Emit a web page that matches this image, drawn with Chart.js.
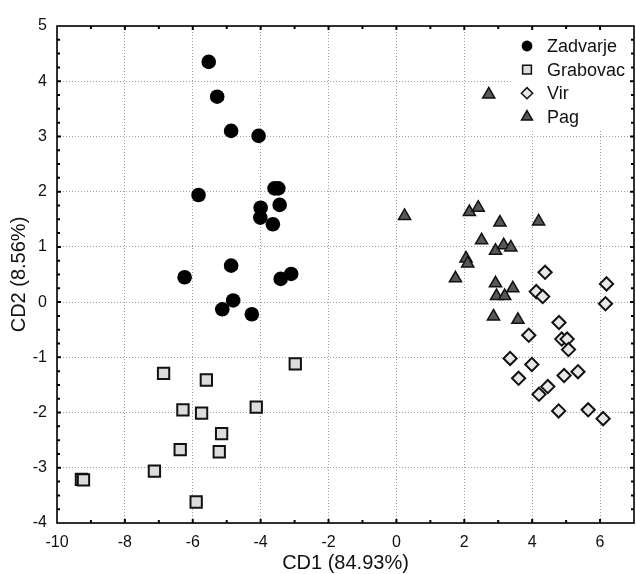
<!DOCTYPE html>
<html>
<head>
<meta charset="utf-8">
<script src="https://cdn.jsdelivr.net/npm/chart.js@4.4.0/dist/chart.umd.min.js"></script>
<style>html,body{margin:0;padding:0;background:#fff}</style>
</head>
<body>
<canvas id="chart" width="636" height="574"></canvas>
<script>
// values
const zadvarjeX=[-5.53,-5.28,-4.87,-4.06,-5.83,-3.59,-3.48,-3.44,-4.00,-4.01,-3.64,-4.87,-6.24,-3.41,-3.10,-4.81,-5.13,-4.26];
const zadvarjeY=[4.35,3.72,3.10,3.01,1.94,2.06,2.06,1.76,1.71,1.53,1.41,0.66,0.45,0.42,0.51,0.03,-0.13,-0.22];

const grabovacX=[-6.86,-5.60,-2.98,-6.29,-5.74,-4.13,-5.15,-6.37,-5.22,-7.13,-9.28,-9.22,-5.90];
const grabovacY=[-1.29,-1.41,-1.12,-1.95,-2.01,-1.90,-2.38,-2.67,-2.71,-3.06,-3.21,-3.22,-3.62];

const virX=[4.38,6.19,4.12,4.31,6.16,4.79,3.90,4.87,5.03,5.07,3.35,3.99,5.35,4.94,3.60,4.46,4.20,4.78,5.65,6.09];
const virY=[0.54,0.33,0.19,0.10,-0.03,-0.37,-0.60,-0.67,-0.67,-0.86,-1.02,-1.13,-1.26,-1.33,-1.38,-1.53,-1.67,-1.97,-1.95,-2.11];

const pagX=[0.24,2.15,2.41,3.05,4.19,2.51,2.92,3.16,3.37,2.05,2.10,1.74,2.92,3.43,2.95,3.19,2.86,3.58,2.72];
const pagY=[1.56,1.63,1.71,1.44,1.46,1.12,0.93,1.03,0.99,0.79,0.70,0.43,0.34,0.25,0.11,0.11,-0.26,-0.32,3.76];

const xTicks=[-10,-8,-6,-4,-2,0,2,4,6];
const yTicks=[-4,-3,-2,-1,0,1,2,3,4,5];

const FONT='"Liberation Sans", Arial, sans-serif';

function pts(xs,ys){return xs.map((x,i)=>({x:x,y:ys[i]}));}

const styles=[
 {name:'Zadvarje',pointStyle:'circle',r:7.3,fill:'#000',stroke:'#000',bw:0,lr:5.4},
 {name:'Grabovac',pointStyle:'rect',r:8,fill:'#dcdcdc',stroke:'#111',bw:2,lr:6.2},
 {name:'Vir',pointStyle:'rectRot',r:6.6,fill:'#e8e8e8',stroke:'#111',bw:2,lr:5.6},
 {name:'Pag',pointStyle:'triangle',r:7,fill:'#575757',stroke:'#111',bw:1.5,lr:6.3}
];
const allData=[pts(zadvarjeX,zadvarjeY),pts(grabovacX,grabovacY),pts(virX,virY),pts(pagX,pagY)];

// legend inside the plot + frame with inward ticks
const framePlugin={
 id:'framePlugin',
 afterDatasetsDraw(c){
  const ctx=c.ctx,a=c.chartArea;
  ctx.save();
  ctx.fillStyle='#fff';
  ctx.fillRect(a.right-121,a.top+1,120,104);
  ctx.font='18px '+FONT;
  ctx.textBaseline='middle';
  styles.forEach((s,i)=>{
   const y=a.top+20+i*23.6, x=a.right-107;
   ctx.fillStyle=s.fill;ctx.strokeStyle=s.stroke;ctx.lineWidth=s.bw?1.5:0;
   Chart.helpers.drawPoint(ctx,{pointStyle:s.pointStyle,radius:s.lr,rotation:0,borderWidth:s.bw?1.5:0},x,y);
   ctx.fillStyle='#111';
   ctx.fillText(s.name,a.right-87,y+1);
  });
  ctx.restore();
 },
 afterDraw(c){
  const ctx=c.ctx,a=c.chartArea,xs=c.scales.x,ys=c.scales.y;
  ctx.save();
  ctx.strokeStyle='#000';
  ctx.lineWidth=1.6;
  ctx.strokeRect(a.left,a.top,a.right-a.left,a.bottom-a.top);
  ctx.lineWidth=2;
  ctx.beginPath();
  for(let v=-9;v<=6;v++){
   const px=xs.getPixelForValue(v),len=(v%2===0)?4:3;
   ctx.moveTo(px,a.bottom);ctx.lineTo(px,a.bottom-len);
   ctx.moveTo(px,a.top);ctx.lineTo(px,a.top+len);
  }
  for(let k=-15;k<=19;k++){
   const v=k/4,py=ys.getPixelForValue(v),len=(k%4===0)?4:3;
   ctx.moveTo(a.left,py);ctx.lineTo(a.left+len,py);
   ctx.moveTo(a.right,py);ctx.lineTo(a.right-len,py);
  }
  ctx.stroke();
  ctx.restore();
 }
};

const gridOpts={color:'#a0a0a0',lineWidth:1,drawTicks:false};
const tickFont={family:FONT,size:16};

new Chart(document.getElementById('chart'),{
 type:'scatter',
 data:{datasets:styles.map((s,i)=>({
  label:s.name,data:allData[i],pointStyle:s.pointStyle,
  pointRadius:s.r,pointHoverRadius:s.r,
  backgroundColor:s.fill,borderColor:s.stroke,borderWidth:s.bw
 }))},
 options:{
  responsive:false,animation:false,devicePixelRatio:1,
  layout:{autoPadding:false,padding:{top:26,right:2,left:0,bottom:0}},
  plugins:{legend:{display:false},tooltip:{enabled:false}},
  scales:{
   x:{type:'linear',min:-10,max:7,
    afterBuildTicks:s=>{s.ticks=xTicks.map(v=>({value:v}));},
    afterFit:s=>{s.height=51;s.paddingLeft=0;s.paddingRight=0;},
    grid:gridOpts,border:{display:false,dash:[1,2]},
    ticks:{padding:10,color:'#111',font:tickFont},
    title:{display:true,text:'CD1 (84.93%)',color:'#111',font:{family:FONT,size:20,lineHeight:1},padding:{top:1,bottom:1}}
   },
   y:{type:'linear',min:-4,max:5,
    afterBuildTicks:s=>{s.ticks=yTicks.map(v=>({value:v}));},
    afterFit:s=>{s.width=57;s.paddingTop=0;s.paddingBottom=0;},
    grid:gridOpts,border:{display:false,dash:[1,2]},
    ticks:{padding:10,color:'#111',font:tickFont},
    title:{display:true,text:'CD2 (8.56%)',color:'#111',font:{family:FONT,size:20,lineHeight:1},padding:{top:9,bottom:1}}
   }
  }
 },
 plugins:[framePlugin]
});
</script>
</body>
</html>
